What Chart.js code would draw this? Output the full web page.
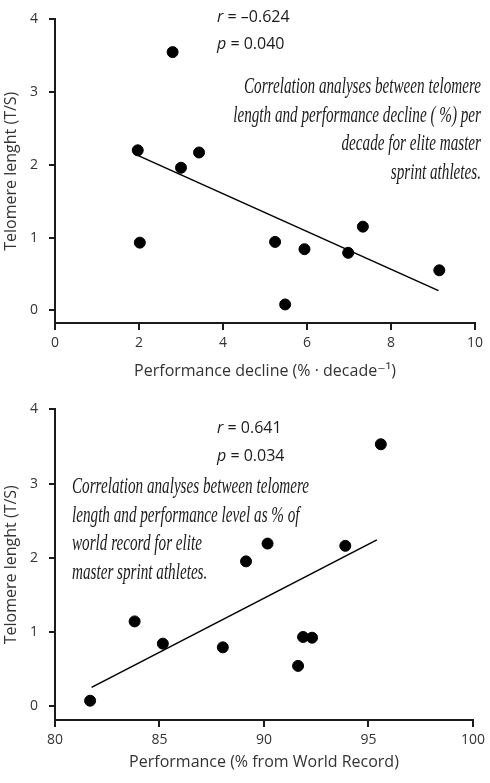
<!DOCTYPE html>
<html>
<head>
<meta charset="utf-8">
<script src="https://cdn.jsdelivr.net/npm/chart.js@4.4.0/dist/chart.umd.min.js"></script>
<style>
  body { margin: 0; background: #fff; }
  canvas { display: block; }
</style>
</head>
<body>
<canvas id="declineChart" width="490" height="390"></canvas>
<canvas id="recordChart" width="490" height="393"></canvas>
<script>
// top panel: performance decline per decade vs telomere length
const declineX = [1.97, 2.80, 2.02, 3.00, 3.43, 5.24, 5.48, 5.94, 6.98, 7.33, 9.15];
const declineY = [2.20, 3.55, 0.93, 1.96, 2.17, 0.94, 0.08, 0.84, 0.79, 1.15, 0.55];
const declineFitX = [1.97, 9.13];
const declineFitY = [2.13, 0.27];
const declineTicks = [0, 2, 4, 6, 8, 10];

// bottom panel: performance as % of world record vs telomere length
const recordX = [81.68, 83.81, 85.16, 88.03, 89.14, 90.17, 91.63, 91.87, 92.30, 93.89, 95.59];
const recordY = [0.07, 1.14, 0.84, 0.79, 1.95, 2.19, 0.54, 0.93, 0.92, 2.16, 3.53];
const recordFitX = [81.75, 95.4];
const recordFitY = [0.25, 2.24];
const recordTicks = [80, 85, 90, 95, 100];

const telomereTicks = [0, 1, 2, 3, 4];

const declineStats = [['r', ' = \u20130.624'], ['p', ' = 0.040']];
const recordStats = [['r', ' = 0.641'], ['p', ' = 0.034']];
const declineNote = [
    'Correlation analyses between telomere',
    'length and performance decline ( %) per',
    'decade for elite master',
    'sprint athletes.'
];
const recordNote = [
    'Correlation analyses between telomere',
    'length and performance level as % of',
    'world record for elite',
    'master sprint athletes.'
];

const ink = '#1b1b1b';
const grey = '#333';
const sans = '"Open Sans", "DejaVu Sans", sans-serif';

const toPoints = (xs, ys) => xs.map((x, i) => ({x: x, y: ys[i]}));

// r / p values and the handwritten-looking caption
function notesPlugin(opts) {
    return {
        id: 'notes',
        afterDraw(chart) {
            const ctx = chart.ctx;
            ctx.save();
            ctx.fillStyle = ink;
            ctx.textBaseline = 'middle';
            ctx.textAlign = 'left';
            opts.stats.forEach((s, i) => {
                const yy = opts.statsPos.y + i * opts.statsPos.gap;
                ctx.font = 'italic 16px ' + sans;
                ctx.fillText(s[0], opts.statsPos.x, yy);
                const w = ctx.measureText(s[0]).width;
                ctx.font = '16px ' + sans;
                ctx.fillText(s[1], opts.statsPos.x + w, yy);
            });
            ctx.font = 'italic 23px "Liberation Serif", serif';
            const squeeze = 237 / ctx.measureText(opts.note[0]).width;
            ctx.textBaseline = 'alphabetic';
            ctx.textAlign = opts.notePos.align;
            opts.note.forEach((line, i) => {
                ctx.save();
                ctx.translate(opts.notePos.x, opts.notePos.y + i * opts.notePos.gap);
                ctx.scale(squeeze, 1);
                ctx.fillText(line, 0, 0);
                ctx.restore();
            });
            ctx.restore();
        }
    };
}

function makeChart(id, opts) {
    return new Chart(document.getElementById(id), {
        type: 'scatter',
        data: {
            datasets: [{
                data: toPoints(opts.xs, opts.ys),
                backgroundColor: '#000',
                borderColor: '#000',
                pointRadius: 5.5,
                pointHoverRadius: 5.5
            }, {
                type: 'line',
                data: toPoints(opts.fitX, opts.fitY),
                borderColor: '#000',
                borderWidth: 1.6,
                pointRadius: 0,
                fill: false
            }]
        },
        options: {
            responsive: false,
            animation: false,
            events: [],
            layout: {padding: {left: 0, right: 15, top: opts.top, bottom: 0}},
            plugins: {legend: {display: false}, tooltip: {enabled: false}},
            scales: {
                x: {
                    type: 'linear',
                    min: opts.xTicks[0],
                    max: opts.xTicks[opts.xTicks.length - 1],
                    afterBuildTicks: s => { s.ticks = opts.xTicks.map(v => ({value: v})); },
                    afterFit: s => { s.height = opts.xHeight; },
                    grid: {display: true, drawOnChartArea: false, drawTicks: true, tickLength: 7, color: ink, lineWidth: 2},
                    border: {display: true, color: ink, width: 2},
                    ticks: {color: grey, font: {family: sans, size: 14}, padding: 5},
                    title: {
                        display: true,
                        text: opts.xTitle,
                        color: grey,
                        font: {family: sans, size: 16},
                        padding: {top: 0, bottom: opts.xTitlePad}
                    }
                },
                y: {
                    type: 'linear',
                    min: opts.yMin,
                    max: 4,
                    afterBuildTicks: s => { s.ticks = telomereTicks.map(v => ({value: v})); },
                    afterFit: s => { s.width = 55; },
                    grid: {display: true, drawOnChartArea: false, drawTicks: true, tickLength: 6, color: ink, lineWidth: 2},
                    border: {display: true, color: ink, width: 2},
                    ticks: {color: grey, font: {family: sans, size: 14}, padding: 11},
                    title: {
                        display: true,
                        text: 'Telomere lenght (T/S)',
                        color: grey,
                        font: {family: sans, size: 16},
                        padding: {top: 2, bottom: 0}
                    }
                }
            }
        },
        plugins: [notesPlugin(opts)]
    });
}

makeChart('declineChart', {
    xs: declineX, ys: declineY, fitX: declineFitX, fitY: declineFitY,
    xTicks: declineTicks, yMin: -0.175, top: 0, xHeight: 67, xTitlePad: 9,
    xTitle: 'Performance decline (% \u00b7 decade\u207b\u00b9)',
    stats: declineStats, statsPos: {x: 217, y: 17, gap: 27},
    note: declineNote, notePos: {x: 481, y: 93, gap: 28.5, align: 'right'}
});

makeChart('recordChart', {
    xs: recordX, ys: recordY, fitX: recordFitX, fitY: recordFitY,
    xTicks: recordTicks, yMin: -0.19, top: 5.5, xHeight: 63, xTitlePad: 11,
    xTitle: 'Performance (% from World Record)',
    stats: recordStats, statsPos: {x: 217, y: 38, gap: 28},
    note: recordNote, notePos: {x: 72, y: 103, gap: 28.5, align: 'left'}
});
</script>
</body>
</html>
